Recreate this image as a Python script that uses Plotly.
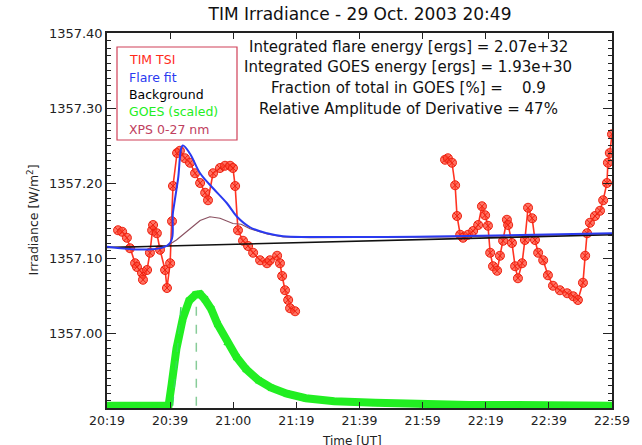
import plotly.graph_objects as go

# ---- data (time in minutes after 20:19 UT) ----
tick_minutes = [0, 20, 40, 60, 80, 100, 120, 140, 160]
tick_labels = ["20:19", "20:39", "21:00", "21:19", "21:39", "21:59", "22:19", "22:39", "22:59"]
y_ticks = [1357.00, 1357.10, 1357.20, 1357.30, 1357.40]
y_tick_labels = ["1357.00", "1357.10", "1357.20", "1357.30", "1357.40"]

tim_time = [3.5, 4.8, 6.3, 7.3, 8.9, 9.5, 11.1, 11.4, 12.7, 13.6, 14.3, 14.6, 15.8, 16.8,
            18.4, 19.0, 20.0, 20.6, 20.9, 22.2, 23.1, 24.7, 26.3, 27.9, 29.5, 31.1, 32.0,
            33.6, 35.8, 37.4, 39.0, 39.9, 40.6, 41.5, 43.1, 44.7, 46.3, 48.5, 50.7, 51.6,
            53.9, 54.8, 55.5, 56.4, 57.4, 58.0, 59.6,
            None,
            107.1, 108.0, 109.3, 110.3, 110.9, 111.9, 112.8, 114.4, 116.0, 117.6, 118.8,
            119.8, 120.7, 121.4, 122.3, 123.6, 124.5, 125.5, 126.7, 127.1, 128.3, 129.3,
            130.2, 131.5, 132.4, 133.4, 134.7, 135.6, 136.6, 138.2, 139.7, 141.3, 143.5,
            145.8, 147.7, 149.2, 150.8, 151.5, 152.1, 153.0, 154.6, 156.2, 157.2, 158.4,
            158.7, 159.3, 160.0]
tim_value = [1357.137, 1357.135, 1357.127, 1357.113, 1357.093, 1357.088, 1357.080, 1357.071,
             1357.084, 1357.107, 1357.137, 1357.144, 1357.133, 1357.111, 1357.084, 1357.060,
             1357.093, 1357.149, 1357.196, 1357.240, 1357.243, 1357.233, 1357.227, 1357.213,
             1357.200, 1357.187, 1357.177, 1357.213, 1357.220, 1357.223, 1357.223, 1357.220,
             1357.196, 1357.137, 1357.123, 1357.116, 1357.107, 1357.097, 1357.093, 1357.097,
             1357.103, 1357.093, 1357.076, 1357.057, 1357.044, 1357.033, 1357.029,
             None,
             1357.231, 1357.233, 1357.227, 1357.197, 1357.156, 1357.131, 1357.127, 1357.131,
             1357.136, 1357.144, 1357.169, 1357.157, 1357.143, 1357.107, 1357.089, 1357.083,
             1357.103, 1357.123, 1357.151, 1357.144, 1357.120, 1357.089, 1357.073, 1357.093,
             1357.124, 1357.167, 1357.153, 1357.124, 1357.107, 1357.097, 1357.077, 1357.063,
             1357.057, 1357.053, 1357.049, 1357.044, 1357.067, 1357.103, 1357.133, 1357.147,
             1357.156, 1357.163, 1357.177, 1357.200, 1357.227, 1357.240, 1357.265]

fit_time = [0, 19.5, 20.9, 22.5, 24.0, 26.3, 29.5, 33.6, 38.0, 41.2, 45.3, 50.7, 55.8,
            64.3, 108.7, 160]
fit_value = [1357.115, 1357.118, 1357.161, 1357.205, 1357.250, 1357.239, 1357.213,
             1357.193, 1357.173, 1357.155, 1357.141, 1357.133, 1357.129, 1357.128,
             1357.129, 1357.133]

bg_time = [0, 160]
bg_value = [1357.114, 1357.131]

xps_time = [0, 17.0, 19.0, 22.0, 25.3, 29.5, 32.6, 35.8, 39.9, 42.5, 45.3, 50.7, 55.8,
            64.3, 108.7, 160]
xps_value = [1357.114, 1357.115, 1357.116, 1357.124, 1357.136, 1357.150, 1357.155,
             1357.153, 1357.146, 1357.145, 1357.139, 1357.132, 1357.128, 1357.127,
             1357.128, 1357.132]

goes_time = [0, 5, 10, 15, 19.5, 20.5, 22, 24, 26, 28, 29.5, 31, 33, 35, 38, 41, 44, 48,
             52, 57, 63, 72, 85, 100, 115, 130, 145, 160]
goes_value = [1356.903, 1356.903, 1356.903, 1356.903, 1356.903, 1356.932, 1356.979,
              1357.019, 1357.043, 1357.051, 1357.052, 1357.045, 1357.032, 1357.012,
              1356.988, 1356.968, 1356.952, 1356.937, 1356.927, 1356.919, 1356.913,
              1356.909, 1356.907, 1356.905, 1356.904, 1356.904, 1356.903, 1356.903]

goes_mark1_time = [20.8, 23.6]
goes_mark1_value = [1356.903, 1357.043]
goes_mark2_time = [28.3, 28.3]
goes_mark2_value = [1356.903, 1357.040]

legend_labels = ["TIM TSI", "Flare fit", "Background", "GOES (scaled)", "XPS 0-27 nm"]
legend_colors = ["#ff2a1a", "#2a3af0", "#000000", "#22ee22", "#c04060"]

info_lines = ["Integrated flare energy [ergs] = 2.07e+32",
              "Integrated GOES energy [ergs] = 1.93e+30",
              "Fraction of total in GOES [%] =    0.9",
              "Relative Amplitude of Derivative = 47%"]

FONT = "DejaVu Sans"

fig = go.Figure()

fig.add_trace(go.Scatter(x=goes_time, y=goes_value, mode="lines+markers",
                         line=dict(color="#22ee22", width=8),
                         marker=dict(symbol="x-thin-open", size=6, color="#22ee22",
                                     line=dict(color="#22ee22", width=1.5)),
                         showlegend=False, hoverinfo="skip"))
fig.add_trace(go.Scatter(x=goes_mark1_time, y=goes_mark1_value, mode="lines",
                         line=dict(color="#33dd55", width=1.5, dash="dash"),
                         showlegend=False, hoverinfo="skip"))
fig.add_trace(go.Scatter(x=goes_mark2_time, y=goes_mark2_value, mode="lines",
                         line=dict(color="#88cc99", width=1.5, dash="dash"),
                         showlegend=False, hoverinfo="skip"))

fig.add_trace(go.Scatter(x=tim_time, y=tim_value, mode="lines+markers",
                         line=dict(color="#ff3322", width=1.6),
                         marker=dict(symbol="circle-x", size=9, color="rgba(255,70,50,0.75)",
                                     line=dict(color="#ee2211", width=1)),
                         connectgaps=False, showlegend=False))

fig.add_trace(go.Scatter(x=xps_time, y=xps_value, mode="lines",
                         line=dict(color="#8a5060", width=1.2),
                         showlegend=False))
fig.add_trace(go.Scatter(x=bg_time, y=bg_value, mode="lines",
                         line=dict(color="#111111", width=1.6),
                         showlegend=False))
fig.add_trace(go.Scatter(x=fit_time, y=fit_value, mode="lines", line_shape="spline",
                         line=dict(color="#2a3af0", width=2),
                         showlegend=False))

# legend box
fig.add_shape(type="rect", xref="paper", yref="paper",
              x0=(117 - 107) / 505, x1=(237 - 107) / 505,
              y0=(408 - 140) / 375, y1=(408 - 47) / 375,
              line=dict(color="#d04058", width=1.2), fillcolor="rgba(255,255,255,0)")
for i, (lab, col) in enumerate(zip(legend_labels, legend_colors)):
    ypix = 60 + i * 17.3
    fig.add_annotation(xref="paper", yref="paper", x=(127 - 107) / 505,
                       y=(408 - ypix) / 375, text=lab, showarrow=False,
                       xanchor="left", yanchor="middle",
                       font=dict(family=FONT, size=12.5, color=col))

for i, line in enumerate(info_lines):
    ypix = 47 + i * 20.5
    fig.add_annotation(xref="paper", yref="paper", x=(408 - 107) / 505,
                       y=(408 - ypix) / 375, text=line, showarrow=False,
                       xanchor="center", yanchor="middle",
                       font=dict(family=FONT, size=15, color="#111111"))

fig.add_annotation(xref="paper", yref="paper", x=(352 - 107) / 505, y=-(441 - 408) / 375,
                   text="Time [UT]", showarrow=False, xanchor="center", yanchor="middle",
                   font=dict(family=FONT, size=12, color="#222222"))
fig.add_annotation(xref="paper", yref="paper", x=-(107 - 32) / 505, y=0.5,
                   text="Irradiance [W/m<sup>2</sup>]", showarrow=False, textangle=-90,
                   xanchor="center", yanchor="middle",
                   font=dict(family=FONT, size=12.5, color="#222222"))

fig.update_layout(
    width=642, height=445,
    margin=dict(l=107, r=30, t=33, b=37, autoexpand=False),
    paper_bgcolor="white", plot_bgcolor="white",
    title=dict(text="TIM Irradiance - 29 Oct. 2003 20:49", x=360 / 642,
               xanchor="center", y=1 - 14 / 445, yanchor="middle",
               font=dict(family=FONT, size=17, color="#111111")),
    xaxis=dict(range=[0, 160], tickvals=tick_minutes, ticktext=tick_labels,
               showgrid=False, zeroline=False, showline=True, linecolor="#222222",
               linewidth=1.5, mirror="ticks", ticks="inside", ticklen=6, automargin=False,
               tickcolor="#222222", tickfont=dict(family=FONT, size=12.5, color="#222222")),
    yaxis=dict(range=[1356.9, 1357.4], tickvals=y_ticks, ticktext=y_tick_labels,
               showgrid=False, zeroline=False, showline=True, linecolor="#222222",
               linewidth=1.5, mirror="ticks", ticks="inside", ticklen=9, automargin=False,
               tickcolor="#222222", tickfont=dict(family=FONT, size=13, color="#222222"),
               minor=dict(dtick=0.01, tick0=1357.0, ticks="inside", ticklen=4,
                          tickcolor="#222222", showgrid=False)),
)

fig.write_html("out.html", config={"displayModeBar": False},
               post_script="document.body.style.margin='0px';document.body.style.overflow='hidden';")
